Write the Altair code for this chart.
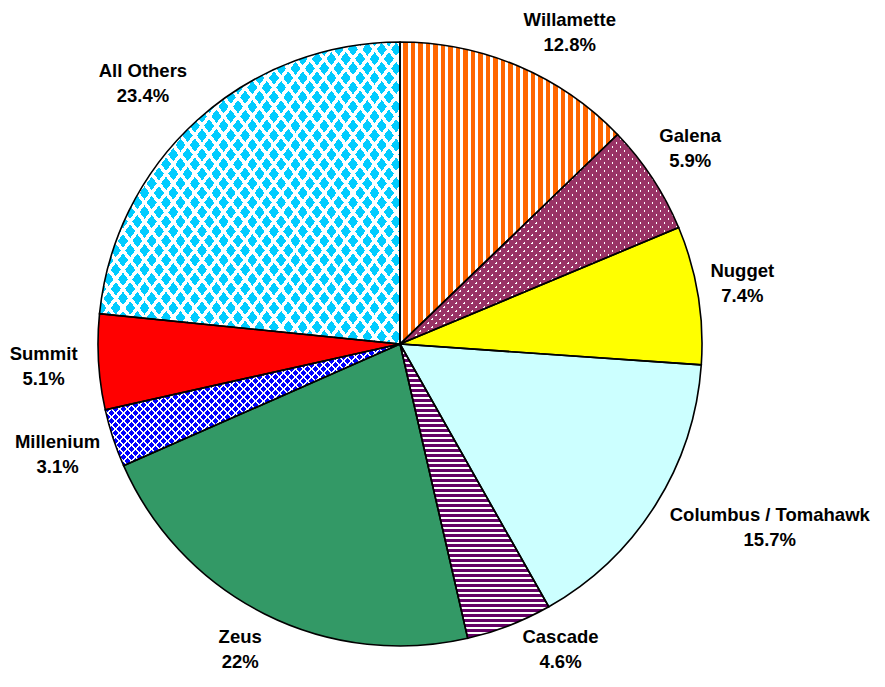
import math
import altair as alt
import pandas as pd

# ---------------- data ----------------
names = ["Willamette", "Galena", "Nugget", "Columbus / Tomahawk", "Cascade",
         "Zeus", "Millenium", "Summit", "All Others"]
shares = [12.8, 5.9, 7.4, 15.7, 4.6, 22, 3.1, 5.1, 23.4]
base_fill = ["#FFFFFF", "#FFFFFF", "#FFFF00", "#CCFFFF", "#FFFFFF",
             "#339966", "#0000FF", "#FF0000", "#00CCFF"]

# ---------------- style ----------------
CX, CY, R = 392, 336, 302
LABEL_R = 352
LINE_H = 25
CLEAR = "rgba(255,255,255,0)"
FONT = "Liberation Sans"
LABEL_NUDGE = {
    "Willamette": (32, 12), "Galena": (-4, -2), "Nugget": (-5, -3),
    "Columbus / Tomahawk": (72, -4), "Cascade": (33, -23), "Zeus": (-2, -9),
    "Millenium": (-8, 1), "Summit": (-5, 2), "All Others": (-21, 1),
}

df = pd.DataFrame({"order": list(range(len(names))), "name": names, "share": shares})

# slice extents (fractions) used only to size the pattern gradients
_tot = sum(shares)
_ext = {}
_acc = 0.0
for n_, s_ in zip(names, shares):
    _ext[n_] = (_acc / _tot, (_acc + s_) / _tot)
    _acc += s_


def arc_bbox(name):
    a0, a1 = _ext[name]
    t0, t1 = a0 * 2 * math.pi, a1 * 2 * math.pi
    pts = [(0.0, 0.0), (math.sin(t0), -math.cos(t0)), (math.sin(t1), -math.cos(t1))]
    for k in range(5):
        q = k * math.pi / 2
        if t0 < q < t1:
            pts.append((math.sin(q), -math.cos(q)))
    xs = [p[0] for p in pts]
    ys = [p[1] for p in pts]
    return R * (max(xs) - min(xs)), R * (max(ys) - min(ys))


def stripes(name, direction, period, on_frac, on_color, off_color):
    w, h = arc_bbox(name)
    dx, dy = direction
    ln = math.hypot(dx, dy)
    nx, ny = -dy / ln, dx / ln
    D = nx * nx * w * w + ny * ny * h * h
    L = abs(nx) * w + abs(ny) * h
    k = L / D
    x1 = 0.0 if nx >= 0 else 1.0
    y1 = 0.0 if ny >= 0 else 1.0
    x2 = x1 + k * nx * w
    y2 = y1 + k * ny * h
    count = L / period
    stops = []
    i = 0
    while i < count:
        o0 = round(i / count, 5)
        o1 = round(min((i + on_frac) / count, 1.0), 5)
        o2 = round(min((i + 1) / count, 1.0), 5)
        stops += [{"offset": o0, "color": on_color}, {"offset": o1, "color": on_color},
                  {"offset": o1, "color": off_color}, {"offset": o2, "color": off_color}]
        i += 1
    return {"gradient": "linear", "x1": round(x1, 5), "y1": round(y1, 5),
            "x2": round(x2, 5), "y2": round(y2, 5), "stops": stops}


patterns = [
    ("Willamette", stripes("Willamette", (0, 1), 7.5, 0.55, "#FF6600", "#FFFFFF")),
    ("Cascade", stripes("Cascade", (1, 0), 5.0, 0.55, "#660066", "#FFFFFF")),
    ("Galena", stripes("Galena", (1, 1), 5.66, 0.72, "#993366", CLEAR)),
    ("Galena", stripes("Galena", (-1, 1), 5.66, 0.72, "#993366", CLEAR)),
    ("Millenium", stripes("Millenium", (1, 1), 5.66, 0.3, "#FFFFFF", CLEAR)),
    ("Millenium", stripes("Millenium", (-1, 1), 5.66, 0.3, "#FFFFFF", CLEAR)),
    ("All Others", stripes("All Others", (7.5, 10), 11.5, 0.3, "#FFFFFF", CLEAR)),
    ("All Others", stripes("All Others", (-7.5, 10), 11.5, 0.3, "#FFFFFF", CLEAR)),
]

theta_scale = alt.Scale(domain=[0, 100], range=[0, 2 * math.pi], nice=False, zero=False)

base = alt.Chart(df).transform_window(
    cum="sum(share)", sort=[alt.SortField("order")], frame=[None, 0]
).transform_calculate(
    start="datum.cum - datum.share",
    mid="datum.cum - datum.share / 2",
    label="datum.name + '\\n' + datum.share + '%'",
)

pos = dict(
    theta=alt.Theta("start:Q", scale=theta_scale),
    theta2=alt.Theta2("cum:Q"),
    x=alt.value(CX),
    y=alt.value(CY),
)

layers = [
    base.mark_arc(radius=R).encode(
        fill=alt.Fill("name:N", scale=alt.Scale(domain=names, range=base_fill), legend=None),
        **pos,
    )
]

for nm, grad in patterns:
    layers.append(
        base.transform_filter(alt.datum.name == nm).mark_arc(radius=R, fill=grad).encode(**pos)
    )

layers.append(
    base.mark_arc(radius=R, fillOpacity=0, stroke="#000000", strokeWidth=1.6).encode(**pos)
)

for nm in names:
    ddx, ddy = LABEL_NUDGE.get(nm, (0, 0))
    layers.append(
        base.transform_filter(alt.datum.name == nm).mark_text(
            font=FONT, fontWeight="bold", fontSize=18.5, lineBreak="\n", lineHeight=LINE_H,
            align="center", baseline="middle", radius=LABEL_R,
            dx=ddx, dy=ddy - LINE_H / 2, color="#000000",
        ).encode(
            theta=alt.Theta("mid:Q", scale=theta_scale),
            text="label:N",
            x=alt.value(CX),
            y=alt.value(CY),
        )
    )

chart = alt.layer(*layers).properties(
    width=869, height=664, padding=0,
    autosize=alt.AutoSizeParams(type="none"),
).configure_view(stroke=None)

chart.save("out.html", embed_options={"renderer": "svg", "actions": False})
